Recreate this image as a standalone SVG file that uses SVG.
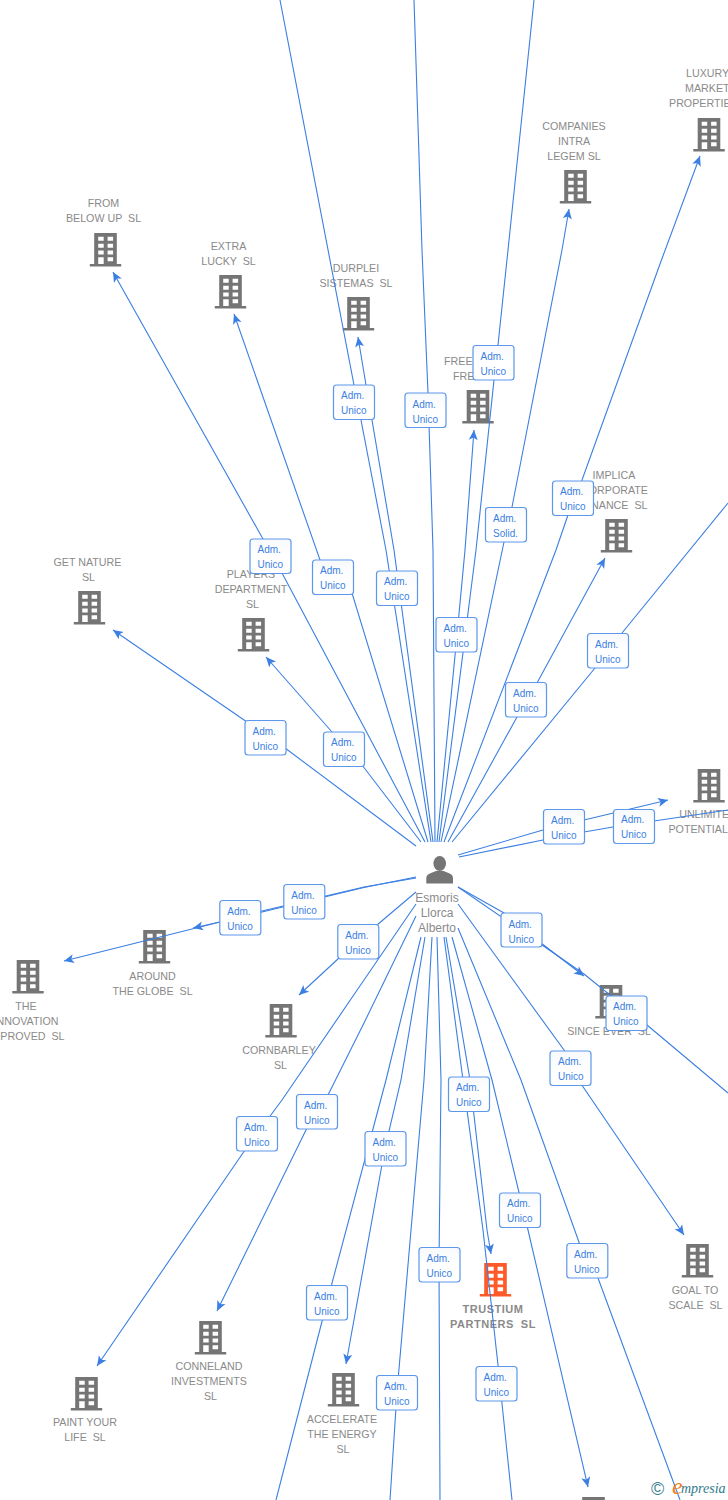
<svg xmlns="http://www.w3.org/2000/svg" width="728" height="1500" viewBox="0 0 728 1500">
<style>
text{font-family:"Liberation Sans",Arial,sans-serif;white-space:pre}
.n{font-size:10.7px;fill:#8a8a8a;text-anchor:middle}
.b{font-size:11px;fill:#8a8a8a;text-anchor:middle;font-weight:bold;letter-spacing:.5px}
.l{font-size:10px;fill:#3b7fe2}
.c{fill:none;stroke:#3b7fe2;stroke-width:1.1}
.a{marker-end:url(#arr)}
.x{fill:url(#bg);stroke:#5c97ea;stroke-width:1.2}
</style>
<defs>
<marker id="arr" markerUnits="userSpaceOnUse" markerWidth="11" markerHeight="10" refX="10" refY="5" orient="auto"><path d="M0,0.5 L10,5 L0,9.5 L2.5,5z" fill="#3b7fe2"/></marker>
<linearGradient id="bg" x1="0" y1="0" x2="0" y2="1"><stop offset="0" stop-color="#f7f9fc"/><stop offset=".5" stop-color="#fff"/></linearGradient>
<g id="bld">
<path d="M-11.300,0H11.300V31H-11.300ZM-7.300,3.700v4h5.500v-4ZM2.100,3.700v4h5.500v-4ZM-7.300,10.700v4h5.500v-4ZM2.100,10.700v4h5.500v-4ZM-7.300,17.500v4h5.500v-4ZM2.100,17.500v4h5.500v-4ZM2.100,24.200v4h5.500v-4ZM-7.300,24.200v6.800h5.500v-6.800Z" fill-rule="evenodd"/>
<rect x="-15.700" y="31" width="31.400" height="2.500"/>
</g>
</defs>
<rect width="728" height="1500" fill="#fff"/>

<g id="nodes" fill="#757575">
<g id="n-luxury"><use href="#bld" x="709" y="118"/><text class="n" style="text-anchor:start"><tspan x="686" y="77">LUXURY</tspan><tspan x="685" y="92">MARKET</tspan><tspan x="669" y="107">PROPERTIES</tspan></text></g>
<g id="n-companies"><use href="#bld" x="575.500" y="170"/><text class="n"><tspan x="574" y="130">COMPANIES</tspan><tspan x="574" y="145">INTRA</tspan><tspan x="574" y="160">LEGEM SL</tspan></text></g>
<g id="n-frombelow"><use href="#bld" x="105.500" y="233"/><text class="n"><tspan x="103.500" y="207">FROM</tspan><tspan x="103.500" y="222">BELOW UP  SL</tspan></text></g>
<g id="n-extra"><use href="#bld" x="230.500" y="275"/><text class="n"><tspan x="228.500" y="250">EXTRA</tspan><tspan x="228.500" y="265">LUCKY  SL</tspan></text></g>
<g id="n-durplei"><use href="#bld" x="358.500" y="297"/><text class="n"><tspan x="356" y="272">DURPLEI</tspan><tspan x="356" y="287">SISTEMAS  SL</tspan></text></g>
<g id="n-free"><use href="#bld" x="478" y="390"/><text class="n" style="text-anchor:start"><tspan x="444" y="365">FREE</tspan><tspan x="453" y="380">FRE</tspan></text></g>
<g id="n-implica"><use href="#bld" x="616.500" y="519"/><text class="n"><tspan x="614" y="479">IMPLICA</tspan><tspan x="614.500" y="494">CORPORATE</tspan><tspan x="614.500" y="509">FINANCE  SL</tspan></text></g>
<g id="n-players"><use href="#bld" x="253.500" y="618"/><text class="n"><tspan x="251" y="578">PLAYERS</tspan><tspan x="251" y="593">DEPARTMENT</tspan><tspan x="252.500" y="608">SL</tspan></text></g>
<g id="n-getnature"><use href="#bld" x="89.500" y="591"/><text class="n"><tspan x="87.500" y="566">GET NATURE</tspan><tspan x="88.500" y="581">SL</tspan></text></g>
<g id="n-unlimited"><use href="#bld" x="709" y="769"/><text class="n"><tspan x="708" y="818">UNLIMITED</tspan><tspan x="707.500" y="833">POTENTIAL  SL</tspan></text></g>
<g id="n-since"><use href="#bld" x="611" y="985"/><text class="n"><tspan x="609" y="1035">SINCE EVER  SL</tspan></text></g>
<g id="n-around"><use href="#bld" x="154.500" y="930"/><text class="n"><tspan x="152.500" y="980">AROUND</tspan><tspan x="152.500" y="995">THE GLOBE  SL</tspan></text></g>
<g id="n-innovation"><use href="#bld" x="28" y="960"/><text class="n"><tspan x="26" y="1010">THE</tspan><tspan x="26" y="1025">INNOVATION</tspan><tspan x="26.500" y="1040">IMPROVED  SL</tspan></text></g>
<g id="n-cornbarley"><use href="#bld" x="281" y="1004"/><text class="n"><tspan x="279" y="1054">CORNBARLEY</tspan><tspan x="280.500" y="1069">SL</tspan></text></g>
<g id="n-goal"><use href="#bld" x="697.500" y="1244"/><text class="n"><tspan x="695" y="1294">GOAL TO</tspan><tspan x="695.500" y="1309">SCALE  SL</tspan></text></g>
<g id="n-trustium" fill="#fe5a2a"><use href="#bld" x="495.500" y="1263"/><text class="b"><tspan x="493" y="1313">TRUSTIUM</tspan><tspan x="493" y="1328">PARTNERS  SL</tspan></text></g>
<g id="n-conneland"><use href="#bld" x="210.500" y="1321"/><text class="n"><tspan x="209" y="1370">CONNELAND</tspan><tspan x="209" y="1385">INVESTMENTS</tspan><tspan x="210.500" y="1400">SL</tspan></text></g>
<g id="n-accelerate"><use href="#bld" x="343.500" y="1373"/><text class="n"><tspan x="342" y="1423">ACCELERATE</tspan><tspan x="342" y="1438">THE ENERGY</tspan><tspan x="343" y="1453">SL</tspan></text></g>
<g id="n-paint"><use href="#bld" x="86.500" y="1377"/><text class="n"><tspan x="85" y="1426">PAINT YOUR</tspan><tspan x="85" y="1441">LIFE  SL</tspan></text></g>
<g id="n-bottom"><use href="#bld" x="593.500" y="1497"/></g>
<g id="n-person"><ellipse cx="439.700" cy="863.500" rx="6.300" ry="7.500"/><path d="M426.300,883.500V878Q426.300,874.500 431,873L436,871H443.500L448.500,873Q453,874.500 453,878V883.500Z"/><text class="n" style="font-size:12px"><tspan x="437" y="902">Esmoris</tspan><tspan x="437" y="917">Llorca</tspan><tspan x="437" y="932">Alberto</tspan></text></g>
</g>

<g id="connectors" class="c">
<path class="a" d="M416,846L285,748L247,722L113,630"/>
<path class="a" d="M421,842L362,765L332,732L266,657"/>
<path class="a" d="M425,842L282,573L263,539L113,272"/>
<path class="a" d="M428,842L352,593L320,560L234,314"/>
<path d="M431,842L386,550L361,420L354,385L280,0"/>
<path class="a" d="M433,842L394,550L372,420L366,385L358,337"/>
<path d="M435,842L433,550L428,393L422,250L414,0"/>
<path class="a" d="M437,842L457,635L465,550L474,430"/>
<path d="M439,842L476,550L494,380L498,345L508,250L534,0"/>
<path class="a" d="M441,842L504,542L512,507L562,250L569,209"/>
<path class="a" d="M444,842L556,550L568,515L582,480L660,264L700,156"/>
<path class="a" d="M448,842L517,717L537,683L605,558"/>
<path d="M452,842L595,668L622,633L728,503"/>
<path class="a" d="M458,855L543,830L584,820L668,800"/>
<path d="M459,857L543,840L584,832L613,827L654,821L728,810"/>
<path class="a" d="M416,878L364,887L262,911L220,922L193,928"/>
<path class="a" d="M416,877L364,887.500L262,912L220,922L64,961"/>
<path class="a" d="M416,892L377,925L339,958L299,995"/>
<path class="a" d="M416,904L364,980L282,1100L245,1150L97,1366"/>
<path class="a" d="M416,916L364,1023L328,1095L306,1130L217,1311"/>
<path d="M421,937L386,1080L327,1302L276,1500"/>
<path class="a" d="M425,937L401,1080L385,1148L346,1364"/>
<path d="M432,937L424,1080L397,1392L390,1500"/>
<path d="M437,937L441,1080L439,1264L440,1500"/>
<path d="M444,937L463,1080L483,1230L498,1365L512,1500"/>
<path class="a" d="M446,937L470,1080L487,1230L491,1254"/>
<path class="a" d="M452,937L492,1080L528,1230L588,1487"/>
<path d="M458,928L521,1080L580,1245L598,1278L680,1500"/>
<path class="a" d="M458,904L564,1050L575,1075L684,1235"/>
<path class="a" d="M458,887L504,913L541,943L584,976"/>
<path d="M458,887L584,974L647,1025L728,1093"/>
</g>

<g id="edge-labels" class="l">
<g><rect class="x" x="333.500" y="385" width="41" height="34.500" rx="3"/><text x="341" y="399">Adm.</text><text x="341" y="414">Unico</text></g>
<g><rect class="x" x="405" y="393" width="41" height="34.500" rx="3"/><text x="412.500" y="407.500">Adm.</text><text x="412.500" y="422.500">Unico</text></g>
<g><rect class="x" x="473" y="345.500" width="41" height="34.500" rx="3"/><text x="480.500" y="360">Adm.</text><text x="480.500" y="375">Unico</text></g>
<g><rect class="x" x="552.500" y="481" width="41" height="34.500" rx="3"/><text x="560" y="495">Adm.</text><text x="560" y="510">Unico</text></g>
<g><rect class="x" x="485.500" y="507.500" width="41" height="34.500" rx="3"/><text x="493" y="522">Adm.</text><text x="493" y="537">Solid.</text></g>
<g><rect class="x" x="250" y="539" width="41" height="34.500" rx="3"/><text x="257.500" y="553">Adm.</text><text x="257.500" y="568">Unico</text></g>
<g><rect class="x" x="312.500" y="560" width="41" height="34.500" rx="3"/><text x="320" y="574">Adm.</text><text x="320" y="589">Unico</text></g>
<g><rect class="x" x="376.500" y="571" width="41" height="34.500" rx="3"/><text x="384" y="585">Adm.</text><text x="384" y="600">Unico</text></g>
<g><rect class="x" x="436" y="617.500" width="41" height="34.500" rx="3"/><text x="443.500" y="632">Adm.</text><text x="443.500" y="647">Unico</text></g>
<g><rect class="x" x="587.500" y="633.500" width="41" height="34.500" rx="3"/><text x="595" y="648">Adm.</text><text x="595" y="663">Unico</text></g>
<g><rect class="x" x="505.500" y="682.500" width="41" height="34.500" rx="3"/><text x="513" y="697">Adm.</text><text x="513" y="712">Unico</text></g>
<g><rect class="x" x="245" y="720.500" width="41" height="34.500" rx="3"/><text x="252.500" y="735">Adm.</text><text x="252.500" y="750">Unico</text></g>
<g><rect class="x" x="323.500" y="732" width="41" height="34.500" rx="3"/><text x="331" y="746">Adm.</text><text x="331" y="761">Unico</text></g>
<g><rect class="x" x="543.500" y="809.500" width="41" height="34.500" rx="3"/><text x="551" y="824">Adm.</text><text x="551" y="839">Unico</text></g>
<g><rect class="x" x="613.500" y="809.500" width="41" height="34" rx="3"/><text x="621" y="823">Adm.</text><text x="621" y="838">Unico</text></g>
<g><rect class="x" x="283.800" y="884.500" width="41" height="34.500" rx="3"/><text x="291.300" y="899">Adm.</text><text x="291.300" y="914">Unico</text></g>
<g><rect class="x" x="219.800" y="900.500" width="41" height="34.500" rx="3"/><text x="227.300" y="915">Adm.</text><text x="227.300" y="930">Unico</text></g>
<g><rect class="x" x="337.800" y="924.500" width="41" height="34.500" rx="3"/><text x="345.300" y="939">Adm.</text><text x="345.300" y="954">Unico</text></g>
<g><rect class="x" x="501" y="913" width="41" height="34" rx="3"/><text x="508.500" y="927.500">Adm.</text><text x="508.500" y="942.500">Unico</text></g>
<g><rect class="x" x="606" y="996" width="41" height="34.500" rx="3"/><text x="613" y="1010">Adm.</text><text x="613" y="1025">Unico</text></g>
<g><rect class="x" x="550" y="1051" width="41" height="34.500" rx="3"/><text x="558" y="1065">Adm.</text><text x="558" y="1080">Unico</text></g>
<g><rect class="x" x="448.500" y="1077" width="41" height="34.500" rx="3"/><text x="456" y="1091">Adm.</text><text x="456" y="1106">Unico</text></g>
<g><rect class="x" x="296.500" y="1094.500" width="41" height="34.500" rx="3"/><text x="304" y="1109">Adm.</text><text x="304" y="1124">Unico</text></g>
<g><rect class="x" x="236.500" y="1116.500" width="41" height="34.500" rx="3"/><text x="244" y="1131">Adm.</text><text x="244" y="1146">Unico</text></g>
<g><rect class="x" x="365" y="1131.500" width="41" height="34.500" rx="3"/><text x="372.500" y="1146">Adm.</text><text x="372.500" y="1161">Unico</text></g>
<g><rect class="x" x="499.500" y="1193" width="41" height="34.500" rx="3"/><text x="507" y="1207">Adm.</text><text x="507" y="1222">Unico</text></g>
<g><rect class="x" x="566.800" y="1243.500" width="41" height="34.500" rx="3"/><text x="574" y="1258">Adm.</text><text x="574" y="1273">Unico</text></g>
<g><rect class="x" x="419" y="1247.500" width="41" height="34.500" rx="3"/><text x="426.500" y="1262">Adm.</text><text x="426.500" y="1277">Unico</text></g>
<g><rect class="x" x="306.500" y="1285.500" width="41" height="34.500" rx="3"/><text x="314" y="1300">Adm.</text><text x="314" y="1315">Unico</text></g>
<g><rect class="x" x="476" y="1366.500" width="41" height="34.500" rx="3"/><text x="483.500" y="1381">Adm.</text><text x="483.500" y="1396">Unico</text></g>
<g><rect class="x" x="376.500" y="1375.500" width="41" height="34.500" rx="3"/><text x="384" y="1390">Adm.</text><text x="384" y="1405">Unico</text></g>
</g>

<g id="brand">
<text x="651" y="1494.500" style="font-size:18px;fill:#3f7f8f">©</text>
<text x="672" y="1494" style="font-family:'Liberation Serif',serif;font-style:italic;font-size:24px;fill:#f08020">e</text>
<text x="681" y="1493" style="font-family:'Liberation Serif',serif;font-style:italic;font-size:14px;fill:#2f7a8c">mpresia</text>
</g>
</svg>
